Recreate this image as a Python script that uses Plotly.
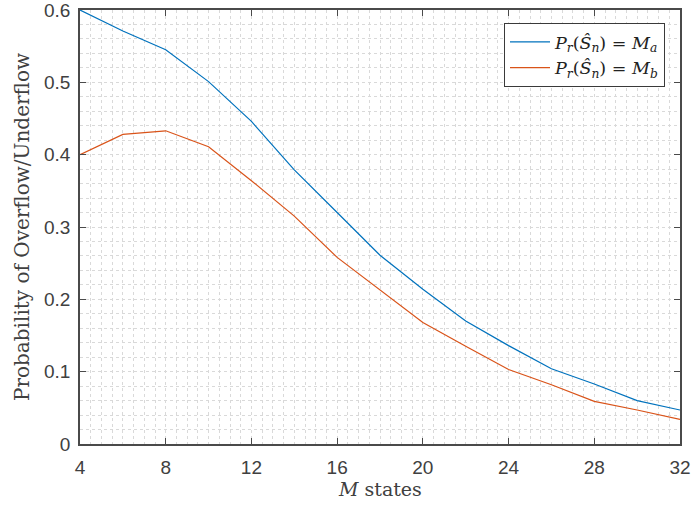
import plotly.graph_objects as go

m_states = [4, 6, 8, 10, 12, 14, 16, 18, 20, 22, 24, 26, 28, 30, 32]
prob_ma = [0.600, 0.571, 0.545, 0.501, 0.446, 0.379, 0.320, 0.261, 0.214, 0.170, 0.136, 0.104, 0.083, 0.060, 0.047]
prob_mb = [0.400, 0.428, 0.433, 0.411, 0.364, 0.315, 0.258, 0.213, 0.168, 0.135, 0.103, 0.082, 0.059, 0.047, 0.034]
x_ticks = [4, 8, 12, 16, 20, 24, 28, 32]
y_ticks = [0, 0.1, 0.2, 0.3, 0.4, 0.5, 0.6]
y_tick_text = ["0", "0.1", "0.2", "0.3", "0.4", "0.5", "0.6"]
x_title = "<i>M</i> states"
y_title = "Probability of Overflow/Underflow"

serif = "DejaVu Serif"
sans = "Liberation Sans"
axis_col = "#4a4a4a"
grid_col = "#d9d9d9"
text_col = "#404040"

fig = go.Figure()
fig.add_trace(go.Scatter(
    x=m_states, y=prob_ma, mode="lines",
    line=dict(color="#0072BD", width=1.2),
    name="<i>P</i><sub><i>r</i></sub>(<i>Ŝ</i><sub><i>n</i></sub>) = <i>M</i><sub><i>a</i></sub>"))
fig.add_trace(go.Scatter(
    x=m_states, y=prob_mb, mode="lines",
    line=dict(color="#D95319", width=1.2),
    name="<i>P</i><sub><i>r</i></sub>(<i>Ŝ</i><sub><i>n</i></sub>) = <i>M</i><sub><i>b</i></sub>"))

fig.update_layout(
    width=693, height=508,
    margin=dict(l=80, r=13, t=10, b=64),
    paper_bgcolor="white", plot_bgcolor="white",
    showlegend=True,
    legend=dict(
        x=0.975, y=0.97, xanchor="right", yanchor="top",
        bgcolor="white", bordercolor="#3a3a3a", borderwidth=1,
        font=dict(family=serif, size=17.5, color="#222222"),
        tracegroupgap=0, itemwidth=40,
    ),
    annotations=[
        dict(text=x_title, xref="paper", yref="paper", x=0.5, y=0,
             xanchor="center", yanchor="middle", yshift=-45, showarrow=False,
             font=dict(family=serif, size=19, color=text_col)),
        dict(text=y_title, xref="paper", yref="paper", x=0, y=0.5,
             xanchor="center", yanchor="middle", xshift=-58, textangle=-90, showarrow=False,
             font=dict(family=serif, size=20, color=text_col)),
    ],
)
fig.update_xaxes(
    range=[4, 32], tickvals=x_ticks, ticktext=[str(v) for v in x_ticks],
    ticks="inside", ticklen=6, tickcolor=axis_col, tickwidth=1,
    showline=True, linecolor=axis_col, linewidth=1.5, mirror="ticks",
    showgrid=True, gridcolor=grid_col, griddash="dot", gridwidth=1,
    minor=dict(dtick=0.5, tick0=4, showgrid=True, gridcolor=grid_col, griddash="dot", gridwidth=1),
    tickfont=dict(family=sans, size=19, color=text_col),
    ticklabelstandoff=5, ticklabeloverflow="allow",
    zeroline=False, automargin=False,
)
fig.update_yaxes(
    range=[0, 0.6], tickvals=y_ticks, ticktext=y_tick_text,
    ticks="inside", ticklen=6, tickcolor=axis_col, tickwidth=1,
    showline=True, linecolor=axis_col, linewidth=1.5, mirror="ticks",
    showgrid=True, gridcolor=grid_col, griddash="dot", gridwidth=1,
    minor=dict(dtick=0.02, tick0=0, showgrid=True, gridcolor=grid_col, griddash="dot", gridwidth=1),
    tickfont=dict(family=sans, size=19, color=text_col),
    ticklabelstandoff=4, ticklabeloverflow="allow",
    zeroline=False, automargin=False,
)

fig.write_html("out.html", config={"displayModeBar": False},
               post_script="document.body.style.margin='0';")
